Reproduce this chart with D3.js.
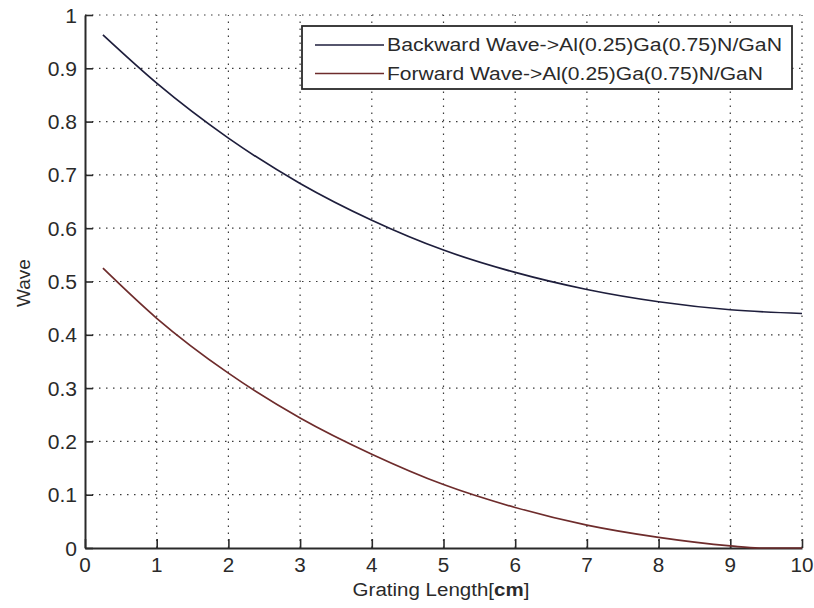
<!DOCTYPE html>
<html>
<head>
<meta charset="utf-8">
<script src="https://cdn.jsdelivr.net/npm/d3@7"></script>
<style>
  html, body { margin: 0; padding: 0; background: #fff; }
  svg { display: block; font-family: "Liberation Sans", Arial, sans-serif; }
</style>
</head>
<body>
<svg id="chart" width="814" height="608"></svg>
<script>
// ---- data ----
const backwardX = [0.25, 1, 2, 3, 4, 5, 6, 7, 8, 9, 10];
const backwardY = [0.9625, 0.872, 0.769, 0.684, 0.615, 0.559, 0.517, 0.485, 0.462, 0.447, 0.44];
const forwardX = [0.25, 1, 2, 3, 4, 5, 6, 7, 8, 9, 9.4, 10];
const forwardY = [0.525, 0.431, 0.328, 0.244, 0.176, 0.119, 0.076, 0.043, 0.020, 0.004, 0, 0];
const xTicks = [0, 1, 2, 3, 4, 5, 6, 7, 8, 9, 10];
const yTicks = [0, 0.1, 0.2, 0.3, 0.4, 0.5, 0.6, 0.7, 0.8, 0.9, 1];
const seriesNames = ["Backward Wave->Al(0.25)Ga(0.75)N/GaN", "Forward Wave->Al(0.25)Ga(0.75)N/GaN"];
const seriesColors = ["#1e1e3c", "#6e2c2c"];

const svg = d3.select("#chart");
const x = d3.scaleLinear().domain([0, 10]).range([85, 802]);
const y = d3.scaleLinear().domain([0, 1]).range([548, 15]);

// grid
const grid = svg.append("g").attr("stroke", "#3a3a3a").attr("stroke-width", 1.2)
  .attr("stroke-dasharray", "1.5,5.5");
grid.selectAll("line.gx").data(xTicks.slice(1)).join("line")
  .attr("x1", d => x(d)).attr("x2", d => x(d)).attr("y1", y(0)).attr("y2", y(1));
grid.selectAll("line.gy").data(yTicks.slice(1)).join("line")
  .attr("y1", d => y(d)).attr("y2", d => y(d)).attr("x1", x(0)).attr("x2", x(10));

// axes
const fmtY = d => d === 0 ? "0" : (d === 1 ? "1" : d3.format(".1f")(d));
const xAxis = svg.append("g").attr("transform", `translate(0,${y(0)})`)
  .call(d3.axisBottom(x).tickValues(xTicks).tickSizeInner(-9).tickSizeOuter(0).tickFormat(""));
const yAxis = svg.append("g").attr("transform", `translate(${x(0)},0)`)
  .call(d3.axisLeft(y).tickValues(yTicks).tickSizeInner(-8).tickSizeOuter(0).tickFormat(""));
[xAxis, yAxis].forEach(a => {
  a.select(".domain").attr("stroke", "#2a2a2a").attr("stroke-width", 2);
  a.selectAll(".tick line").attr("stroke", "#2a2a2a").attr("stroke-width", 1.6);
});

// tick labels (stretched slightly horizontally like the reference)
const tl = svg.append("g").attr("fill", "#2a2a2a").attr("font-size", 19.5);
tl.selectAll("text.xl").data(xTicks).join("text")
  .attr("text-anchor", "middle")
  .attr("transform", d => `translate(${x(d)},572) scale(1.06,1)`)
  .text(d => d);
tl.selectAll("text.yl").data(yTicks).join("text")
  .attr("text-anchor", "end")
  .attr("transform", d => `translate(77,${y(d) + 7.5}) scale(1.08,1)`)
  .text(fmtY);

// axis titles
const xt = svg.append("text").attr("fill", "#2a2a2a").attr("font-size", 19)
  .attr("text-anchor", "middle").attr("transform", "translate(441,596) scale(1.08,1)");
xt.append("tspan").text("Grating Length[");
xt.append("tspan").attr("font-weight", "bold").text("cm");
xt.append("tspan").text("]");
svg.append("text").attr("fill", "#2a2a2a").attr("font-size", 19)
  .attr("text-anchor", "middle").attr("transform", "translate(30,283) rotate(-90)")
  .text("Wave");

// lines
const line = d3.line().x(d => x(d[0])).y(d => y(d[1])).curve(d3.curveMonotoneX);
const series = [
  backwardX.map((v, i) => [v, backwardY[i]]),
  forwardX.map((v, i) => [v, forwardY[i]])
];
svg.append("g").selectAll("path").data(series).join("path")
  .attr("d", line).attr("fill", "none")
  .attr("stroke", (d, i) => seriesColors[i]).attr("stroke-width", 1.7);

// legend
const lg = svg.append("g");
lg.append("rect").attr("x", 302).attr("y", 26).attr("width", 490).attr("height", 63)
  .attr("fill", "#fff").attr("stroke", "#2a2a2a").attr("stroke-width", 1.8);
const rowY = [45, 73.5];
const lens = [395, 376];
seriesNames.forEach((name, i) => {
  lg.append("line").attr("x1", 315).attr("x2", 384).attr("y1", rowY[i]).attr("y2", rowY[i])
    .attr("stroke", seriesColors[i]).attr("stroke-width", 1.7);
  lg.append("text").attr("x", 387).attr("y", rowY[i] + 6.4)
    .attr("font-size", 17.5).attr("fill", "#2a2a2a")
    .attr("textLength", lens[i]).attr("lengthAdjust", "spacingAndGlyphs")
    .text(name);
});
</script>
</body>
</html>
